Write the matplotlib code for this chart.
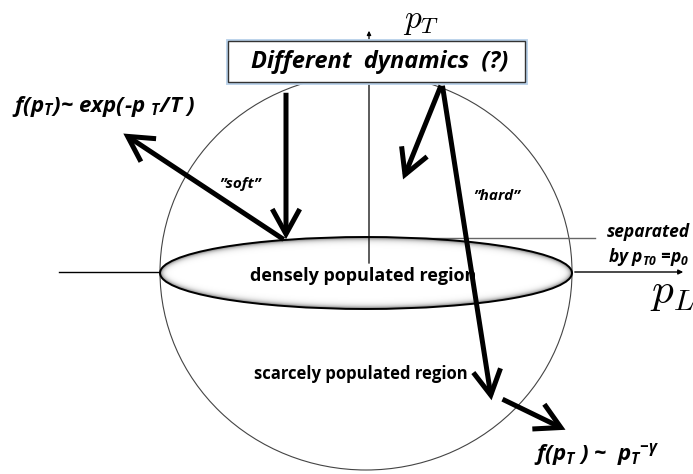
import matplotlib.pyplot as plt
import numpy as np
from matplotlib.patches import Ellipse, Rectangle, FancyArrowPatch

plt.rcParams['font.family'] = ['Open Sans', 'DejaVu Sans']
plt.rcParams['mathtext.fontset'] = 'custom'
plt.rcParams['mathtext.it'] = 'Open Sans:italic:bold'
plt.rcParams['mathtext.rm'] = 'Open Sans:italic:bold'
plt.rcParams['mathtext.bf'] = 'Open Sans:italic:bold'

# diagram geometry, in pixel coordinates of the picture (y down)
sphere_center = (366, 272)
sphere_size = (412, 396)
disc_center = (366, 273)
disc_size = (412, 72)

pl_axis_left = [(59, 272), (161, 272)]
pl_axis_right = [(572, 272), (686, 272)]
pt_axis = [(369, 266), (369, 28)]
cut_line = [(345, 238), (595, 238)]

box_xy = (228, 41)
box_size = (297, 41)

arrows = [
    [(286, 90), (286, 242)],
    [(286, 241), (121, 132)],
    [(442, 83), (402, 182)],
    [(442, 83), (492, 403)],
    [(500, 398), (568, 431)],
]

labels = [
    # text, x, y, size, weight, style, ha
    ('Different  dynamics  (?)', 380, 62, 17, 'bold', 'italic', 'center'),
    ('f(p$_T$)~ exp(-p $_T$/T )', 12, 106, 16, 'bold', 'italic', 'left'),
    ('\u201dsoft\u201d', 240, 184, 11, 'bold', 'italic', 'center'),
    ('\u201dhard\u201d', 497, 196, 11, 'bold', 'italic', 'center'),
    ('densely populated region', 363, 276, 13, 'bold', 'normal', 'center'),
    ('scarcely populated region', 361, 374, 12, 'bold', 'normal', 'center'),
    ('separated', 607, 232, 12.5, 'bold', 'italic', 'left'),
    ('by p$_{T0}$ =p$_0$', 608, 257, 12.5, 'bold', 'italic', 'left'),
    ('f(p$_T$ ) ~  p$_T$$^{-\\gamma}$', 534, 454, 16, 'bold', 'italic', 'left'),
]

fig = plt.figure(figsize=(6.93, 4.74), dpi=100)
ax = fig.add_axes([0, 0, 1, 1])
ax.set_xlim(0, 693)
ax.set_ylim(474, 0)
ax.axis('off')

# outer sphere
ax.add_patch(Ellipse(sphere_center, *sphere_size, fill=False, ec='#444444', lw=0.8, zorder=1))

# axes lines
for seg in [pl_axis_left]:
    ax.plot([seg[0][0], seg[1][0]], [seg[0][1], seg[1][1]], color='black', lw=1.0, zorder=2)
ax.annotate('', xy=pl_axis_right[1], xytext=pl_axis_right[0],
            arrowprops=dict(arrowstyle='-|>', color='black', lw=1.0, mutation_scale=7), zorder=2)
ax.plot([cut_line[0][0], cut_line[1][0]], [cut_line[0][1], cut_line[1][1]], color='#666666', lw=1.0, zorder=2)

# shaded disc: white inside, thin grey glow along the rim
cx, cy = disc_center
w, h = disc_size
a, b = w / 2, h / 2
px = np.linspace(-a, a, 824)
py = np.linspace(-b, b, 144)
X, Y = np.meshgrid(px, py)
F = (X / a) ** 2 + (Y / b) ** 2
grad = 2 * np.sqrt(X ** 2 / a ** 4 + Y ** 2 / b ** 4) + 1e-9
dist = np.clip((1 - F) / grad, 0, None)
shade = 1 - 0.6 * np.exp(-dist / 2.5)
img = ax.imshow(shade, cmap='gray', vmin=0, vmax=1,
                extent=[cx - a, cx + a, cy + b, cy - b], zorder=3, interpolation='bilinear')
disc = Ellipse(disc_center, w, h, fc='none', ec='black', lw=1.4, zorder=4)
ax.add_patch(disc)
img.set_clip_path(disc)
ax.set_xlim(0, 693)
ax.set_ylim(474, 0)

ax.annotate('', xy=pt_axis[1], xytext=pt_axis[0],
            arrowprops=dict(arrowstyle='-|>', color='black', lw=0.9, mutation_scale=6), zorder=5)

# box
ax.add_patch(Rectangle(box_xy, *box_size, fc='white', ec='#b9d1ea', lw=3.5, zorder=6))
ax.add_patch(Rectangle(box_xy, *box_size, fc='white', ec='#333333', lw=1.0, zorder=7))

# thick arrows
for start, end in arrows:
    ax.add_patch(FancyArrowPatch(start, end, arrowstyle='->,head_length=1.0,head_width=0.55',
                                 mutation_scale=18, lw=3.6, color='black',
                                 capstyle='butt', joinstyle='miter', zorder=8))

for txt, x, y, size, weight, style, ha in labels:
    ax.text(x, y, txt, fontsize=size, fontweight=weight, fontstyle=style,
            ha=ha, va='center', color='black', zorder=9)

ax.text(403, 20, '$p_T$', fontsize=24, math_fontfamily='cm', ha='left', va='center', zorder=9)
ax.text(650, 292, '$p_L$', fontsize=31, math_fontfamily='cm', ha='left', va='center', zorder=9)

fig.savefig('out.png', dpi=100)
